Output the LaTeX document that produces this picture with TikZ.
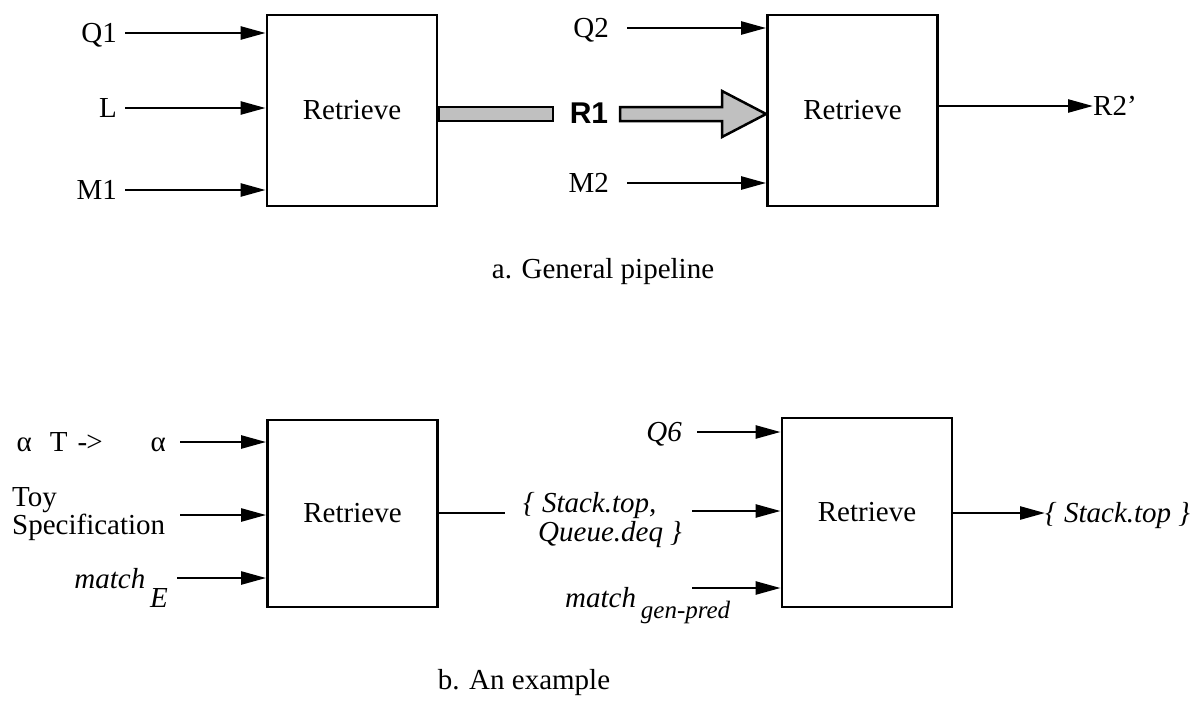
\documentclass[tikz,border=0pt]{standalone}
\usepackage{fontspec}
\setmainfont{Liberation Serif}
\newfontfamily\arial{Liberation Sans}
\usetikzlibrary{arrows.meta,calc}
\definecolor{fatgray}{HTML}{C0C0C0}
\begin{document}
\begin{tikzpicture}[x=1pt,y=-1pt,
  every node/.style={font=\fontsize{29}{33}\selectfont, inner sep=0pt},
  box/.style={draw, line width=2.8pt, minimum width=170pt},
  lbl/.style={text height=19pt, text depth=0pt},
  arr/.style={line width=2.5pt, -{Triangle[length=25pt,width=13pt]}},
  plain/.style={line width=2.5pt},
  fat/.style={draw, line width=2.5pt, fill=fatgray, line join=miter}]
\useasboundingbox (0,0) rectangle (1202,704);

% ---- a. general pipeline ----
\node[box, minimum height=191pt] (b1) at (352,110.5) {Retrieve};
\node[box, minimum height=191pt] (b2) at (852.5,110.5) {Retrieve};

\node[lbl, anchor=east] (q1) at (117,33) {Q1};
\node[lbl, anchor=east] (l)  at (117,108) {L};
\node[lbl, anchor=east] (m1) at (117,190) {M1};
\coordinate (q1s) at (125,33);
\coordinate (ls)  at (125,108);
\coordinate (m1s) at (125,190);
\draw[arr] (q1s) -- (b1.west |- q1s);
\draw[arr] (ls)  -- (b1.west |- ls);
\draw[arr] (m1s) -- (b1.west |- m1s);

\node[lbl, anchor=east] (q2) at (609,28) {Q2};
\node[lbl, anchor=east] (m2) at (609,183) {M2};
\coordinate (q2s) at (627,28);
\coordinate (m2s) at (627,183);
\draw[arr] (q2s) -- (b2.west |- q2s);
\draw[arr] (m2s) -- (b2.west |- m2s);

% broad result arrow R1
\draw[fat] (b1.east |- 0,107) rectangle (553,121);
\node[font=\arial\bfseries\fontsize{30}{33}\selectfont] (r1) at (589,113) {R1};
\draw[fat] (620,107) -- (722,107) -- (722,91) -- (b2.west |- 0,114)
  -- (722,137) -- (722,121) -- (620,121) -- cycle;

\node[lbl, anchor=west] (r2) at (1093,106) {R2’};
\draw[arr] (b2.east |- r2.west) -- (r2.west);

\node (capa) at (603,272) {a. General pipeline};

% ---- b. an example ----
\node[box, minimum height=187pt] (b3) at (352.5,513.5) {Retrieve};
\node[box, minimum height=189pt] (b4) at (867,512.5) {Retrieve};

\node[lbl, anchor=east] (al) at (166,442) {α\hspace{18pt}T\hspace{10pt}-\kern-1pt>\hspace{48pt}α};
\node[anchor=west, align=left, font=\fontsize{29}{28}\selectfont] (toy) at (12,514.5) {Toy\\Specification};
\node[anchor=base east] (me) at (168,588) {\itshape match\,\raisebox{-19pt}{E}};
\coordinate (als) at (180,442);
\coordinate (toys) at (180,515);
\coordinate (mes) at (177,578);
\draw[arr] (als)  -- (b3.west |- als);
\draw[arr] (toys) -- (b3.west |- toys);
\draw[arr] (mes)  -- (b3.west |- mes);

\coordinate (b3o) at (505,513);
\draw[plain] (b3.east |- b3o) -- (b3o);
\node[anchor=west, align=left, font=\fontsize{29}{29}\selectfont\itshape] (set) at (523,520)
  {\{ Stack.top,\\\hspace{15pt}Queue.deq \}};

\node[lbl, anchor=east, font=\fontsize{29}{33}\selectfont\itshape] (q6) at (682,432) {Q6};
\node[anchor=base west] (mg) at (565,607)
  {\itshape match\,\raisebox{-11pt}{\fontsize{25}{25}\selectfont gen-pred}};
\coordinate (q6s) at (697,432);
\coordinate (sets) at (692,511);
\coordinate (mgs) at (692,588);
\draw[arr] (q6s)  -- (b4.west |- q6s);
\draw[arr] (sets) -- (b4.west |- sets);
\draw[arr] (mgs)  -- (b4.west |- mgs);

\node[lbl, anchor=west, font=\fontsize{29}{33}\selectfont\itshape] (st) at (1045,513) {\{ Stack.top \}};
\draw[arr] (b4.east |- st.west) -- (st.west);

\node (capb) at (524,683) {b. An example};
\end{tikzpicture}
\end{document}
